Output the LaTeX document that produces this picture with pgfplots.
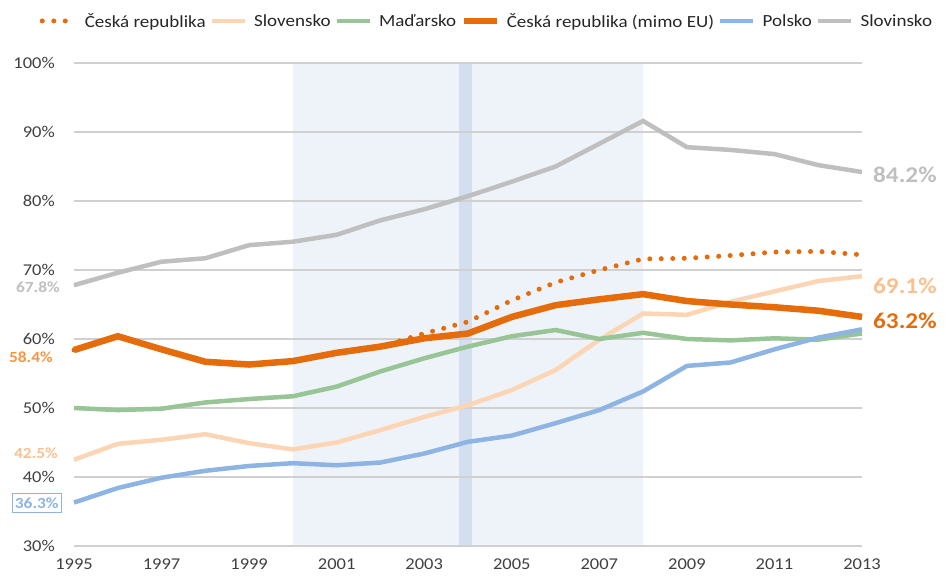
\documentclass[border=0pt]{standalone}
\usepackage{pgfplots}
\pgfplotsset{compat=1.18}
\usepackage{fontspec}
\setmainfont{Carlito}[FakeStretch=1.12]
\definecolor{cOr}{HTML}{E46C0A}
\definecolor{cOrL}{HTML}{F79646}
\definecolor{cPe}{HTML}{FCD5B5}
\definecolor{cPeT}{HTML}{FAC090}
\definecolor{cGr}{HTML}{97C595}
\definecolor{cBl}{HTML}{8EB4E3}
\definecolor{cGy}{HTML}{BFBFBF}
\definecolor{cBand}{HTML}{EEF3F9}
\definecolor{cBandD}{HTML}{D3DFEF}
\definecolor{cGrid}{HTML}{D0D0D0}
\definecolor{cTxt}{HTML}{404040}
\begin{document}
\begin{tikzpicture}
\path (0,0) rectangle (949pt,575pt);
\begin{axis}[
  at={(74pt,29pt)}, anchor=south west,
  scale only axis, width=788pt, height=483pt,
  set layers, clip=false,
  xmin=1995, xmax=2013, ymin=30, ymax=100,
  xtick={1995,1997,...,2013},
  ytick={30,40,...,100},
  yticklabel={\pgfmathprintnumber{\tick}\%},
  /pgf/number format/1000 sep={},
  /pgf/number format/assume math mode=true,
  tick style={draw=none},
  ymajorgrids, grid style={cGrid, line width=1.3pt},
  axis x line*=bottom, axis y line*=left,
  x axis line style={draw=cGrid, line width=1.3pt, -},
  y axis line style={draw=none},
  ticklabel style={font=\fontsize{16.5}{19}\selectfont, text=cTxt, inner sep=0pt},
  yticklabel style={anchor=east, xshift=-19pt},
  xticklabel style={anchor=north, yshift=-13pt},
  legend columns=-1,
  legend style={draw=none, fill=none, at={(rel axis cs:0.524,1.087)}, anchor=center,
    font=\fontsize{17}{20}\selectfont, text=black!85,
    /tikz/every odd column/.append style={column sep=5pt},
    /tikz/every even column/.append style={column sep=2pt}},
  legend image code/.code={\draw[#1] (0pt,0pt) -- (33pt,0pt);},
]
\begin{pgfonlayer}{axis background}
\fill[cBand] (axis cs:2000,30) rectangle (axis cs:2008,100);
\fill[cBandD] (axis cs:2003.8,30) rectangle (axis cs:2004.1,100);
\end{pgfonlayer}
% Ceska republika (dotted)
\addplot[cOr, line width=5pt, line cap=round, dash pattern=on 0pt off 11.5pt] coordinates {
(1995,58.4) (1996,60.4) (1997,58.5) (1998,56.7) (1999,56.3) (2000,56.8) (2001,58.0) (2002,58.9)
(2003,60.8) (2004,62.5) (2005,65.6) (2006,68.2) (2007,70.0) (2008,71.6) (2009,71.7) (2010,72.1)
(2011,72.6) (2012,72.7) (2013,72.2)};
\addlegendentry{Česká republika}
% Slovensko
\addplot[cPe, line width=4.5pt] coordinates {
(1995,42.5) (1996,44.8) (1997,45.4) (1998,46.2) (1999,44.9) (2000,44.0) (2001,45.0) (2002,46.8)
(2003,48.7) (2004,50.4) (2005,52.6) (2006,55.5) (2007,59.9) (2008,63.7) (2009,63.5) (2010,65.4)
(2011,66.9) (2012,68.4) (2013,69.1)};
\addlegendentry{Slovensko}
% Madarsko
\addplot[cGr, line width=4.5pt] coordinates {
(1995,50.0) (1996,49.7) (1997,49.9) (1998,50.8) (1999,51.3) (2000,51.7) (2001,53.1) (2002,55.3)
(2003,57.2) (2004,58.9) (2005,60.4) (2006,61.3) (2007,60.0) (2008,60.9) (2009,60.0) (2010,59.8)
(2011,60.1) (2012,59.9) (2013,60.8)};
\addlegendentry{Maďarsko}
% Ceska republika (mimo EU)
\addplot[cOr, line width=6.5pt] coordinates {
(1995,58.4) (1996,60.4) (1997,58.5) (1998,56.7) (1999,56.3) (2000,56.8) (2001,58.0) (2002,58.9)
(2003,60.1) (2004,60.8) (2005,63.2) (2006,64.9) (2007,65.75) (2008,66.5) (2009,65.5) (2010,65.0)
(2011,64.6) (2012,64.1) (2013,63.2)};
\addlegendentry{Česká republika (mimo EU)}
% Polsko
\addplot[cBl, line width=4.5pt] coordinates {
(1995,36.3) (1996,38.4) (1997,39.9) (1998,40.9) (1999,41.6) (2000,42.0) (2001,41.7) (2002,42.1)
(2003,43.4) (2004,45.1) (2005,46.0) (2006,47.8) (2007,49.7) (2008,52.4) (2009,56.1) (2010,56.6)
(2011,58.5) (2012,60.2) (2013,61.4)};
\addlegendentry{Polsko}
% Slovinsko
\addplot[cGy, line width=4.5pt] coordinates {
(1995,67.8) (1996,69.6) (1997,71.2) (1998,71.7) (1999,73.6) (2000,74.1) (2001,75.1) (2002,77.2)
(2003,78.8) (2004,80.7) (2005,82.8) (2006,85.0) (2007,88.3) (2008,91.6) (2009,87.8) (2010,87.4)
(2011,86.8) (2012,85.2) (2013,84.2)};
\addlegendentry{Slovinsko}
% end labels
\node[anchor=west, text=cGy, font=\bfseries\fontsize{22.5}{26}\selectfont, inner sep=0pt, xshift=11pt] at (axis cs:2013,83.8) {84.2\%};
\node[anchor=west, text=cPeT, font=\bfseries\fontsize{22.5}{26}\selectfont, inner sep=0pt, xshift=11pt] at (axis cs:2013,67.7) {69.1\%};
\node[anchor=west, text=cOr, font=\bfseries\fontsize{22.5}{26}\selectfont, inner sep=0pt, xshift=11pt] at (axis cs:2013,62.6) {63.2\%};
% start labels
\node[anchor=east, text=cGy, font=\bfseries\fontsize{15.5}{18}\selectfont, inner sep=0pt, xshift=-14pt] at (axis cs:1995,67.5) {67.8\%};
\node[anchor=east, text=cOrL, font=\bfseries\fontsize{15.5}{18}\selectfont, inner sep=0pt, xshift=-21pt] at (axis cs:1995,57.4) {58.4\%};
\node[anchor=east, text=cPeT, font=\bfseries\fontsize{15.5}{18}\selectfont, inner sep=0pt, xshift=-16pt] at (axis cs:1995,43.5) {42.5\%};
\node[anchor=east, text=cBl, draw=cBl, line width=0.8pt, fill=white, font=\bfseries\fontsize{15.5}{18}\selectfont, inner xsep=3pt, inner ysep=4pt, xshift=-12pt] at (axis cs:1995,36.2) {36.3\%};
\end{axis}
\end{tikzpicture}
\end{document}
